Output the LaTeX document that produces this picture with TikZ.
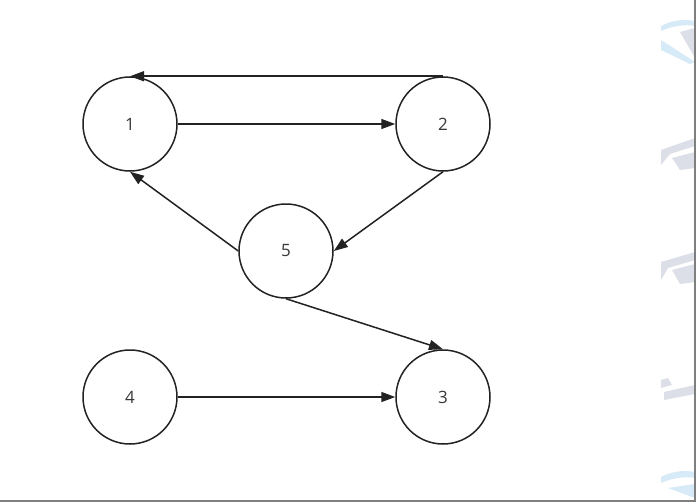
\documentclass[tikz,border=0pt]{standalone}
\usepackage{fontspec}
\setmainfont{Open Sans}
\usetikzlibrary{arrows.meta}
\definecolor{ink}{HTML}{222222}
\definecolor{frame}{HTML}{7F7F7F}
\definecolor{wmblue}{HTML}{D6EAF7}
\definecolor{wmgray}{HTML}{DCDFE8}
\begin{document}
\begin{tikzpicture}[x=1pt,y=-1pt,
  vert/.style={circle,draw=ink,line width=1.5pt,minimum size=94pt,inner sep=0pt,
    font=\fontsize{17}{20}\selectfont,text=ink!90},
  edge/.style={draw=ink,line width=1.5pt,-{Triangle[length=14pt,width=10pt]}}]
\useasboundingbox (0,0) rectangle (696,503);
\fill[white] (0,0) rectangle (696,503);
% faint watermark fragments at right edge
\fill[wmblue] (661,26) .. controls (672,20) and (685,19) .. (695,21) -- (695,26) .. controls (685,24) and (672,26) .. (661,31) -- cycle;
\fill[wmblue] (661,40) -- (695,62) -- (690,64) -- (661,50) -- cycle;
\fill[wmgray] (680,32) -- (695,28) -- (695,58) -- cycle;
\fill[wmgray] (661,150) -- (695,138) -- (695,146) -- (670,154) -- (661,165) -- cycle;
\fill[wmgray] (672,158) -- (695,152) -- (695,168) -- (680,170) -- cycle;
\fill[wmgray] (661,262) -- (695,252) -- (695,260) -- (668,268) -- (661,280) -- cycle;
\fill[wmgray] (672,270) -- (695,264) -- (695,282) -- (680,284) -- cycle;
\fill[wmgray] (661,380) -- (668,378) -- (672,385) -- (661,388) -- cycle;
\fill[wmgray] (664,392) -- (695,385) -- (695,394) -- (664,400) -- cycle;
\fill[wmblue] (661,477) .. controls (672,471) and (685,470) .. (695,472) -- (695,478) .. controls (685,476) and (672,478) .. (661,483) -- cycle;
\fill[wmblue] (668,488) -- (695,484) -- (695,498) -- cycle;
\draw[frame,line width=2pt] (695,0) -- (695,501) -- (0,501);
\node[vert] (n1) at (130,124) {1};
\node[vert] (n2) at (443,124) {2};
\node[vert] (n5) at (286,251) {5};
\node[vert] (n4) at (130,397) {4};
\node[vert] (n3) at (443,397) {3};
\draw[edge] (n2.north) -- (n1.north);
\draw[edge] (n1.east) -- (n2.west);
\draw[edge] (n2.south) -- (n5.east);
\draw[edge] (n5.west) -- (n1.south);
\draw[edge] (n5.south) -- (n3.north);
\draw[edge] (n4.east) -- (n3.west);
\end{tikzpicture}
\end{document}
